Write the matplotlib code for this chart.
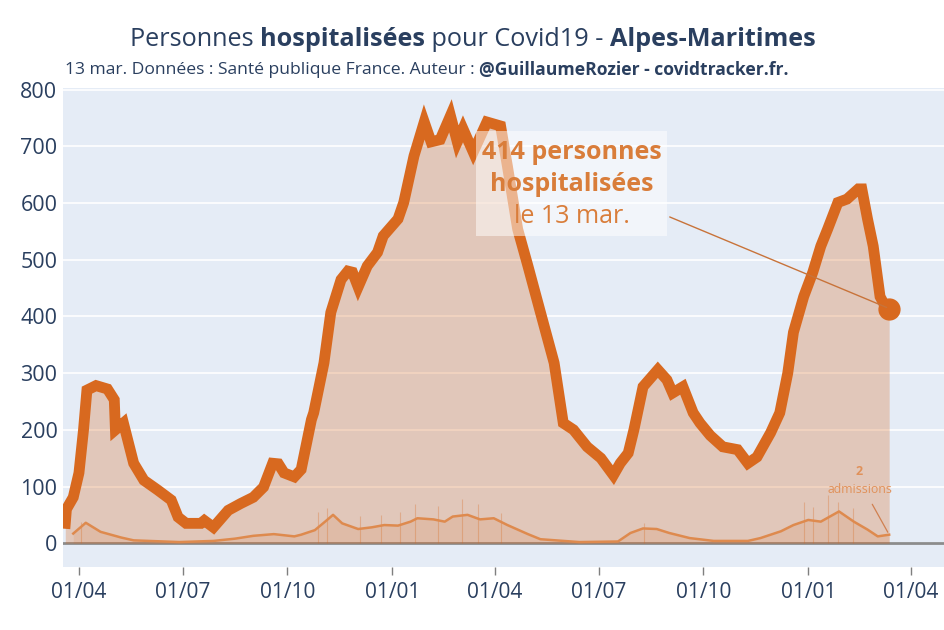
import matplotlib
matplotlib.use("Agg")
import matplotlib.pyplot as plt
import matplotlib.dates as mdates
import pandas as pd

plt.rcParams["font.family"] = ["Open Sans", "DejaVu Sans"]

# hospitalised people
hosp_dates = [
    "2020-03-20", "2020-03-21", "2020-03-27", "2020-04-01", "2020-04-05", "2020-04-08",
    "2020-04-16", "2020-04-26", "2020-05-02", "2020-05-03", "2020-05-10", "2020-05-19",
    "2020-05-28", "2020-06-09", "2020-06-21", "2020-06-27", "2020-07-04", "2020-07-17",
    "2020-07-20", "2020-07-28", "2020-08-10", "2020-08-21", "2020-09-01", "2020-09-10",
    "2020-09-18", "2020-09-23", "2020-09-28", "2020-10-07", "2020-10-13", "2020-10-22",
    "2020-10-24", "2020-11-02", "2020-11-08", "2020-11-17", "2020-11-23", "2020-11-27",
    "2020-12-02", "2020-12-10", "2020-12-19", "2020-12-24", "2021-01-06", "2021-01-11",
    "2021-01-20", "2021-01-29", "2021-02-04", "2021-02-12", "2021-02-21", "2021-02-27",
    "2021-03-04", "2021-03-13", "2021-03-25", "2021-04-06", "2021-04-12", "2021-04-21",
    "2021-04-30", "2021-05-11", "2021-05-23", "2021-05-31", "2021-06-09", "2021-06-21",
    "2021-07-03", "2021-07-14", "2021-07-20", "2021-07-27", "2021-08-01", "2021-08-09",
    "2021-08-22", "2021-08-30", "2021-09-04", "2021-09-13", "2021-09-22", "2021-09-28",
    "2021-10-07", "2021-10-18", "2021-10-31", "2021-11-09", "2021-11-17", "2021-11-29",
    "2021-12-07", "2021-12-14", "2021-12-19", "2021-12-28", "2022-01-05", "2022-01-12",
    "2022-01-18", "2022-01-27", "2022-02-04", "2022-02-14", "2022-02-17", "2022-02-22",
    "2022-02-27", "2022-03-05", "2022-03-09", "2022-03-13",
]
hosp_values = [
    35, 60, 81, 124, 200, 270,
    278, 272, 253, 200, 212, 141,
    111, 94, 76, 46, 35, 35,
    40, 28, 58, 70, 81, 99,
    141, 140, 124, 117, 130, 218,
    230, 318, 407, 465, 480, 478,
    452, 489, 513, 542, 572, 601,
    683, 743, 708, 712, 754, 708,
    731, 690, 743, 736, 665, 554,
    489, 407, 318, 212, 200, 170,
    150, 120, 141, 159, 200, 276,
    306, 288, 265, 276, 230, 212,
    190, 170, 165, 141, 152, 195,
    230, 300, 372, 435, 478, 524,
    554, 601, 607, 625, 625, 572,
    524, 435, 420, 414,
]

# new admissions, rolling average
adm_dates = [
    "2020-03-27", "2020-04-07", "2020-04-20", "2020-05-08", "2020-05-19", "2020-06-28",
    "2020-07-28", "2020-08-16", "2020-09-01", "2020-09-19", "2020-10-07", "2020-10-13",
    "2020-10-25", "2020-11-03", "2020-11-10", "2020-11-18", "2020-12-02", "2020-12-14",
    "2020-12-25", "2021-01-06", "2021-01-17", "2021-01-23", "2021-02-06", "2021-02-16",
    "2021-02-23", "2021-03-08", "2021-03-19", "2021-03-31", "2021-04-12", "2021-04-30",
    "2021-05-11", "2021-06-14", "2021-07-18", "2021-07-29", "2021-08-09", "2021-08-21",
    "2021-09-01", "2021-09-19", "2021-10-10", "2021-11-09", "2021-11-20", "2021-12-08",
    "2021-12-19", "2022-01-01", "2022-01-12", "2022-01-28", "2022-02-10", "2022-02-22",
    "2022-03-03", "2022-03-13",
]
adm_avg = [
    17, 36, 20, 10, 5, 2,
    4, 8, 13, 16, 12, 15,
    23, 38, 50, 35, 25, 28,
    32, 31, 38, 44, 42, 38,
    47, 50, 42, 44, 32, 16,
    7, 2, 3, 18, 26, 25,
    18, 9, 4, 4, 9, 21,
    32, 41, 38, 56, 38, 24,
    12, 15,
]

# visible daily admission spikes
spike_dates = [
    "2020-04-03", "2020-10-28", "2020-11-05", "2020-12-04", "2020-12-22", "2021-01-08",
    "2021-01-21", "2021-02-10", "2021-03-03", "2021-03-17", "2021-04-06", "2021-08-10",
    "2021-12-28", "2022-01-05", "2022-01-18", "2022-01-27", "2022-02-09",
]
spike_values = [
    38, 55, 62, 48, 50, 55,
    69, 66, 78, 69, 54, 35,
    73, 64, 85, 73, 62,
]

x_ticks = ["2020-04-01", "2020-07-01", "2020-10-01", "2021-01-01", "2021-04-01",
           "2021-07-01", "2021-10-01", "2022-01-01", "2022-04-01"]

hosp_x = pd.to_datetime(hosp_dates)
adm_x = pd.to_datetime(adm_dates)
spike_x = pd.to_datetime(spike_dates)

orange = "#d8691f"
light_orange = "#de8a4e"
text_blue = "#2a3f5f"
bg = "#e5ecf6"

fig = plt.figure(figsize=(9.45, 6.3), dpi=100)
ax = fig.add_axes([63 / 945, 1 - 567 / 630, 1 - 63 / 945, (567 - 88) / 630])
ax.set_facecolor(bg)

ax.fill_between(hosp_x, 0, hosp_values, color=orange, alpha=0.28, lw=0, zorder=2)
ax.fill_between(adm_x, 0, adm_avg, color=orange, alpha=0.12, lw=0, zorder=2)
ax.vlines(spike_x, 0, spike_values, color=orange, alpha=0.3, lw=0.8, zorder=2)
ax.axhline(0, color="#8c8c8c", lw=2, zorder=1.5)
ax.plot(adm_x, adm_avg, color=light_orange, lw=1.8, zorder=3)
ax.plot(hosp_x, hosp_values, color=orange, lw=7.8, solid_joinstyle="miter", zorder=4)
ax.plot(hosp_x[-1:], hosp_values[-1:], "o", color=orange, ms=15, zorder=5)

ax.set_ylim(-42, 803)
ax.set_xlim(pd.Timestamp("2020-03-18"), pd.Timestamp("2022-05-01"))
ax.set_yticks(range(0, 801, 100))
ax.set_xticks(pd.to_datetime(x_ticks))
ax.xaxis.set_major_formatter(mdates.DateFormatter("%d/%m"))
ax.grid(axis="y", color="white", lw=1.2, zorder=0)
ax.set_axisbelow(True)
for s in ax.spines.values():
    s.set_visible(False)
ax.tick_params(axis="y", length=0, labelsize=15.5, labelcolor=text_blue, pad=4)
ax.tick_params(axis="x", length=6, color="#7f7f7f", width=1, labelsize=15,
               labelcolor=text_blue, pad=5)

# last-value annotation
last_date = hosp_x[-1]
last_val = hosp_values[-1]
ax.annotate("", xy=(last_date, last_val), xytext=(0.685, 0.733), textcoords="axes fraction",
            arrowprops=dict(arrowstyle="-", color="#c8733a", lw=1), zorder=6)
box = plt.Rectangle((0.468, 0.691), 0.217, 0.219, transform=ax.transAxes,
                    facecolor="white", alpha=0.5, lw=0, zorder=6)
ax.add_patch(box)
ax.text(0.577, 0.866, f"{last_val} personnes", transform=ax.transAxes, ha="center",
        va="center", fontsize=18, fontweight="bold", color="#d97d3a", zorder=7)
ax.text(0.577, 0.799, "hospitalisées", transform=ax.transAxes, ha="center",
        va="center", fontsize=18, fontweight="bold", color="#d97d3a", zorder=7)
ax.text(0.577, 0.732, "le 13 mar.", transform=ax.transAxes, ha="center",
        va="center", fontsize=18, color="#d97d3a", zorder=7)

# admissions annotation
ax.annotate("", xy=(adm_x[-1], adm_avg[-1]), xytext=(0.916, 0.136), textcoords="axes fraction",
            arrowprops=dict(arrowstyle="-", color="#d08050", lw=0.9), zorder=6)
ax.text(0.903, 0.199, "2", transform=ax.transAxes, ha="center", va="center",
        fontsize=9, fontweight="bold", color="#e0915a", zorder=7)
ax.text(0.903, 0.161, "admissions", transform=ax.transAxes, ha="center", va="center",
        fontsize=8.8, color="#e0915a", zorder=7)


def rich_line(parts, y, size, x=None, center=None):
    # draw a line of text made of (text, weight) pieces
    renderer = fig.canvas.get_renderer()
    items = []
    for txt, weight in parts:
        t = fig.text(0, y, txt, fontsize=size, fontweight=weight, color=text_blue,
                     ha="left", va="center")
        w = t.get_window_extent(renderer).width / fig.bbox.width
        items.append((t, w))
    total = sum(w for _, w in items)
    start = center - total / 2 if center is not None else x
    for t, w in items:
        t.set_x(start)
        start += w


rich_line([("Personnes ", "normal"), ("hospitalisées", "bold"),
           (" pour Covid19 - ", "normal"), ("Alpes-Maritimes", "bold")],
          1 - 40 / 630, 18.2, center=0.5)
rich_line([("13 mar. Données : Santé publique France. Auteur : ", "normal"),
           ("@GuillaumeRozier - covidtracker.fr.", "bold")],
          1 - 70 / 630, 12.6, x=65 / 945)

plt.savefig("out.png", dpi=100)
plt.close()
